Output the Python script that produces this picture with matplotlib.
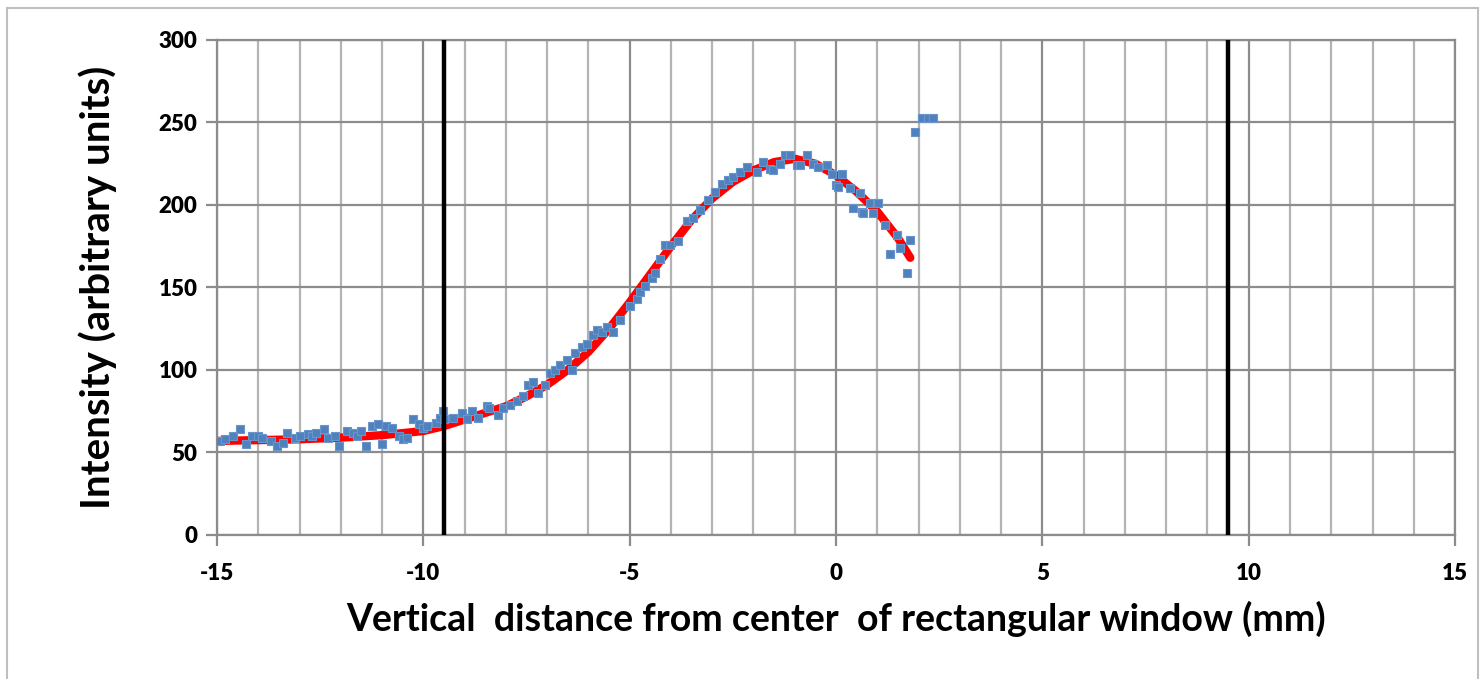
import matplotlib
matplotlib.use("Agg")
import matplotlib.pyplot as plt
from matplotlib.patches import Rectangle

# measured intensity (blue points)
scan_x = [
    -14.93, -14.8, -14.6, -14.44, -14.3, -14.15, -14.0, -13.9, -13.7, -13.55,
    -13.4, -13.3, -13.1, -13.0, -12.8, -12.7, -12.6, -12.4, -12.3, -12.15,
    -12.05, -11.85, -11.7, -11.6, -11.5, -11.4, -11.25, -11.1, -11.0, -10.9,
    -10.75, -10.6, -10.5, -10.4, -10.25, -10.1, -10.0, -9.9, -9.7, -9.6,
    -9.52, -9.5, -9.28, -9.06, -8.94, -8.82, -8.68, -8.46, -8.4, -8.2,
    -8.07, -7.9, -7.73, -7.58, -7.46, -7.34, -7.22, -7.05, -6.93, -6.8,
    -6.69, -6.52, -6.4, -6.33, -6.16, -6.03, -5.89, -5.8, -5.67, -5.55,
    -5.4, -5.23, -5.0, -4.82, -4.75, -4.63, -4.46, -4.39, -4.27, -4.14,
    -4.02, -3.83, -3.61, -3.47, -3.3, -3.1, -2.93, -2.76, -2.62, -2.5,
    -2.33, -2.16, -1.92, -1.77, -1.6, -1.53, -1.36, -1.24, -1.12, -0.95,
    -0.87, -0.7, -0.56, -0.44, -0.22, -0.1, 0.0, 0.05, 0.14, 0.34,
    0.41, 0.58, 0.63, 0.65, 0.82, 0.9, 1.0, 1.02, 1.19, 1.31,
    1.48, 1.55, 1.72, 1.79, 1.91, 2.08, 2.23, 2.35,
]
scan_y = [
    57, 58, 60, 64, 55, 60, 60, 59, 57, 54,
    56, 62, 59, 60, 61, 60, 62, 64, 59, 60,
    54, 63, 62, 60, 63, 54, 66, 67, 55, 66,
    65, 60, 58, 59, 70, 67, 65, 66, 68, 71,
    75, 70, 71, 74, 70, 75, 71, 78, 77, 73,
    77, 79, 81, 84, 91, 93, 86, 91, 98, 100,
    103, 106, 100, 110, 114, 116, 121, 124, 123, 126,
    123, 130, 139, 143, 147, 151, 156, 159, 167, 176,
    176, 178, 190, 192, 197, 203, 208, 213, 215, 217,
    220, 223, 220, 226, 222, 221, 225, 230, 230, 224,
    224, 230, 225, 223, 224, 219, 212, 211, 219, 210,
    198, 207, 196, 195, 201, 195, 201, 201, 188, 170,
    182, 174, 159, 179, 244, 253, 253, 253,
]

# fitted curve (red)
fit_x = [-15.0, -14.0, -13.0, -12.0, -11.0, -10.0, -9.5, -9.0, -8.5, -8.0,
         -7.5, -7.0, -6.5, -6.0, -5.5, -5.0, -4.5, -4.0, -3.5, -3.0,
         -2.5, -2.0, -1.5, -1.0, -0.5, 0.0, 0.5, 1.0, 1.5, 1.8]
fit_y = [57, 57.5, 58, 59, 60.5, 63, 66, 70, 74, 78,
         84, 91, 100, 111, 125, 141, 158, 175, 191, 204,
         214, 221, 226, 228, 225, 218, 208, 196, 180, 168]

window_edges = [-9.5, 9.5]

x_major = [-15, -10, -5, 0, 5, 10, 15]
x_labels = ["-15", "-10", "-5", "0", "5", "10", "15"]
y_major = [0, 50, 100, 150, 200, 250, 300]
y_labels = ["0", "50", "100", "150", "200", "250", "300"]

plt.rcParams["font.family"] = ["Lato", "DejaVu Sans"]
plt.rcParams["axes.unicode_minus"] = False

fig = plt.figure(figsize=(14.84, 6.79), dpi=100)
ax = fig.add_axes([0.1462, 0.2121, 0.8343, 0.729])

grid_col = "#B4B4B4"
major_col = "#8C8C8C"

# grid: every 1 mm vertically, darker every 5 mm
for v in range(-15, 16):
    c = major_col if v % 5 == 0 else grid_col
    ax.axvline(v, color=c, lw=1.6, zorder=0)
for h in y_major:
    ax.axhline(h, color=major_col, lw=1.6, zorder=0)

ax.plot(fit_x, fit_y, color="#FF0000", lw=6, solid_capstyle="round", zorder=2)
ax.scatter(scan_x, scan_y, s=38, marker="s", color="#4F81BD",
           edgecolors="#6A95CC", linewidths=0.8, zorder=3)

for e in window_edges:
    ax.plot([e, e], [0, 300], color="black", lw=3.2, zorder=4)

ax.set_xlim(-15, 15)
ax.set_ylim(0, 300)
ax.set_xticks(x_major, labels=x_labels, fontsize=16, fontweight="heavy")
ax.set_yticks(y_major, labels=y_labels, fontsize=16, fontweight="heavy")
ax.tick_params(axis="both", length=8, width=1.6, color=major_col, pad=6)
ax.tick_params(axis="x", pad=12)
for sp in ax.spines.values():
    sp.set_color(major_col)
    sp.set_linewidth(1.6)

ax.set_xlabel("Vertical  distance from center  of rectangular window (mm)",
              fontsize=27, fontweight="bold", labelpad=12)
ax.set_ylabel("Intensity (arbitrary units)", fontsize=29, fontweight="bold",
              labelpad=30)

# light frame around the whole chart
fig.patches.append(Rectangle((0.005, -0.01), 0.991, 0.998,
                             transform=fig.transFigure, fill=False,
                             edgecolor="#BFBFBF", lw=1.5))

fig.savefig("out.png", dpi=100)
